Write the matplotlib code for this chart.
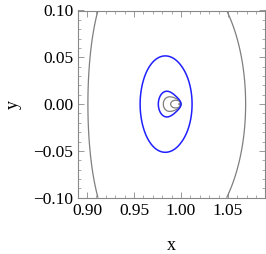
import numpy as np
import matplotlib
matplotlib.use("Agg")
import matplotlib.pyplot as plt
from matplotlib.ticker import MultipleLocator, FixedLocator

# ---- data ----
secondary_x = 1.0
bowl_center = -0.0150           # offset of bowl minimum from the secondary
v_coef = [0.2899, 0.5973, -9.07]  # v^2 coefficient as polynomial in u
dipole_strength = 4e-6
dipole_aniso = 1.15
gray_levels = [-0.004, -0.0025, -0.0016, -0.000348, -0.0001984, 0.00702]
blue_levels = [-0.0000832, 0.000718]
x_ticks = [0.90, 0.95, 1.00, 1.05]
y_ticks = [-0.10, -0.05, 0.00, 0.05, 0.10]
x_limits = (0.8899, 1.0894)
y_limits = (-0.10, 0.10)

# ---- field ----
xs = np.linspace(x_limits[0], x_limits[1], 2001) + 1e-7
ys = np.linspace(y_limits[0], y_limits[1], 2001) + 1e-7
X, Y = np.meshgrid(xs, ys)
U = X - secondary_x
V = Y
C = v_coef[0] + v_coef[1] * U + v_coef[2] * U**2
F = ((U - bowl_center) ** 2 + C * V**2
     + dipole_strength * np.minimum(U, 0) / (U**2 + dipole_aniso * V**2))

plt.rcParams['font.family'] = ['Liberation Serif', 'DejaVu Serif']
fig = plt.figure(figsize=(2.66, 2.54), dpi=100)
ax = fig.add_axes([77.5 / 266, 1 - 197.7 / 254, 187.5 / 266, 187.2 / 254])

ax.contour(X, Y, F, levels=sorted(gray_levels), colors='#7f7f7f',
           linewidths=0.9, linestyles='solid')
ax.contour(X, Y, F, levels=sorted(blue_levels), colors='#2020ff',
           linewidths=1.1, linestyles='solid')

ax.set_xlim(*x_limits)
ax.set_ylim(*y_limits)
ax.xaxis.set_major_locator(FixedLocator(x_ticks))
ax.yaxis.set_major_locator(FixedLocator(y_ticks))
ax.xaxis.set_minor_locator(MultipleLocator(0.01))
ax.yaxis.set_minor_locator(MultipleLocator(0.01))
ax.set_xticklabels([f"{t:.2f}" for t in x_ticks])
ax.set_yticklabels([f"{t:.2f}".replace('-', '\u2212') for t in y_ticks])
ax.tick_params(which='both', direction='in', top=True, right=True,
               color='#888888', labelsize=12.5)
ax.tick_params(which='major', length=4, width=0.6)
ax.tick_params(which='minor', length=2, width=0.5)
ax.tick_params(axis='x', pad=4)
ax.tick_params(axis='y', pad=3)
for sp in ax.spines.values():
    sp.set_color('#888888')
    sp.set_linewidth(0.8)

fig.text(171 / 266, 1 - 245 / 254, 'x', fontsize=13, ha='center', va='center')
fig.text(13 / 266, 1 - 105 / 254, 'y', fontsize=13, ha='center', va='center', rotation=90)

fig.savefig('out.png', dpi=100)
